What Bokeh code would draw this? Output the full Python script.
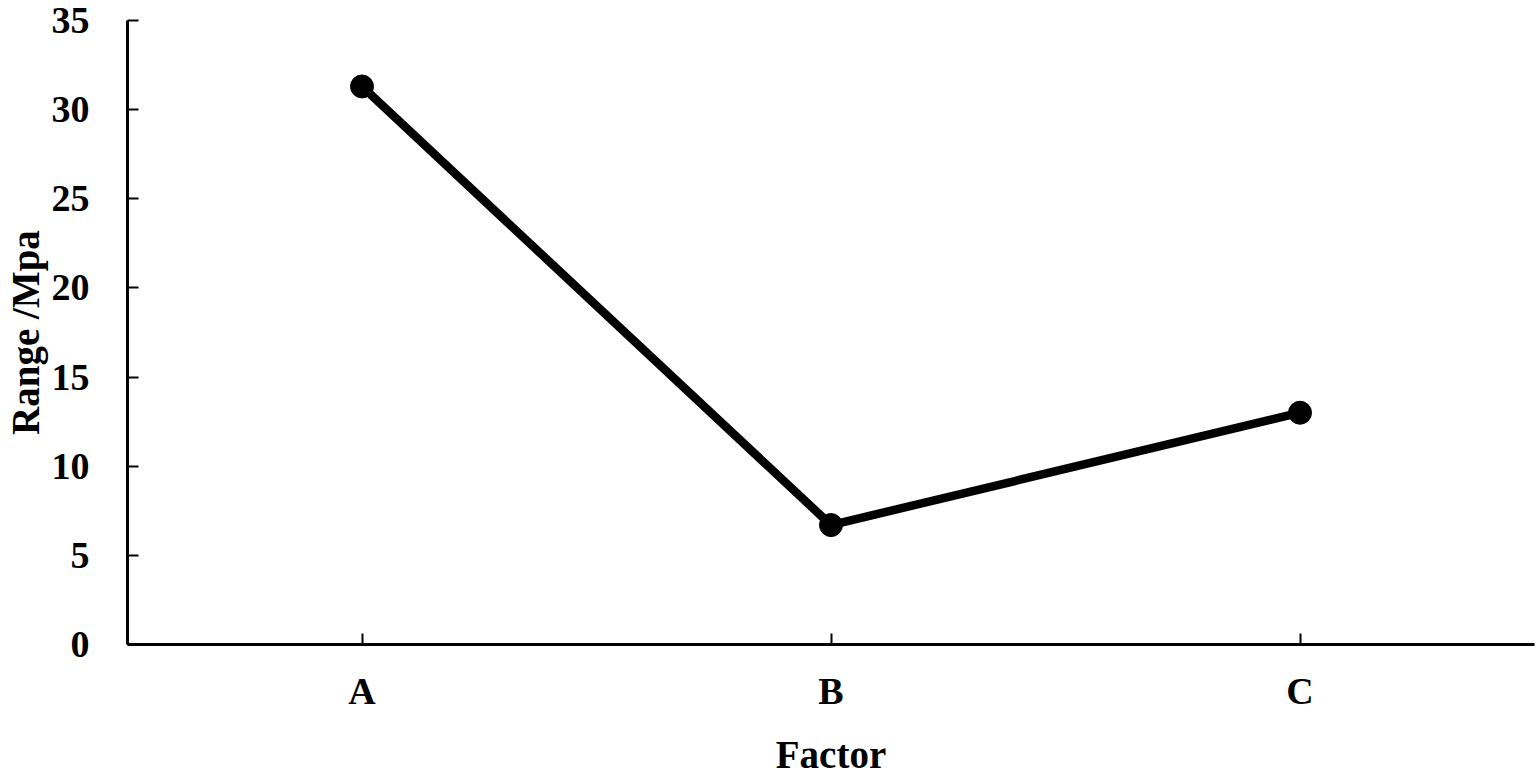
from bokeh.plotting import figure
from bokeh.models import FactorRange, Range1d, SingleIntervalTicker
from bokeh.embed import file_html
from bokeh.resources import INLINE

factors = ["A", "B", "C"]
values = [31.3, 6.7, 13.0]

FONT = "Liberation Serif"

p = figure(
    x_range=FactorRange(*factors, range_padding=0),
    y_range=Range1d(0, 35),
    width=1536, height=778,
    output_backend="svg", toolbar_location=None,
    min_border_left=100, min_border_top=20, min_border_right=2, min_border_bottom=100,
)
p.outline_line_color = None
p.grid.visible = False

p.line(factors, values, line_color="black", line_width=8.5)
p.scatter(factors, values, size=23, fill_color="black", line_color="black")

for ax in (p.xaxis[0], p.yaxis[0]):
    ax.axis_line_color = "black"
    ax.axis_line_width = 3
    ax.major_tick_line_color = "black"
    ax.major_tick_line_width = 2
    ax.major_tick_in = 11
    ax.major_tick_out = 0
    ax.minor_tick_line_color = None
    ax.major_label_text_font = FONT
    ax.major_label_text_font_style = "bold"
    ax.major_label_text_font_size = "38px"
    ax.major_label_text_color = "black"
    ax.axis_label_text_font = FONT
    ax.axis_label_text_font_style = "bold"
    ax.axis_label_text_font_size = "39px"
    ax.axis_label_text_color = "black"

p.xaxis.axis_label = "Factor"
p.yaxis.axis_label = "Range /Mpa"
p.yaxis.ticker = SingleIntervalTicker(interval=5)
p.xaxis.major_label_standoff = 25
p.xaxis.axis_label_standoff = 18
p.yaxis.major_label_standoff = 34
p.yaxis.axis_label_standoff = 2

open("out.html", "w").write(file_html(p, INLINE))
